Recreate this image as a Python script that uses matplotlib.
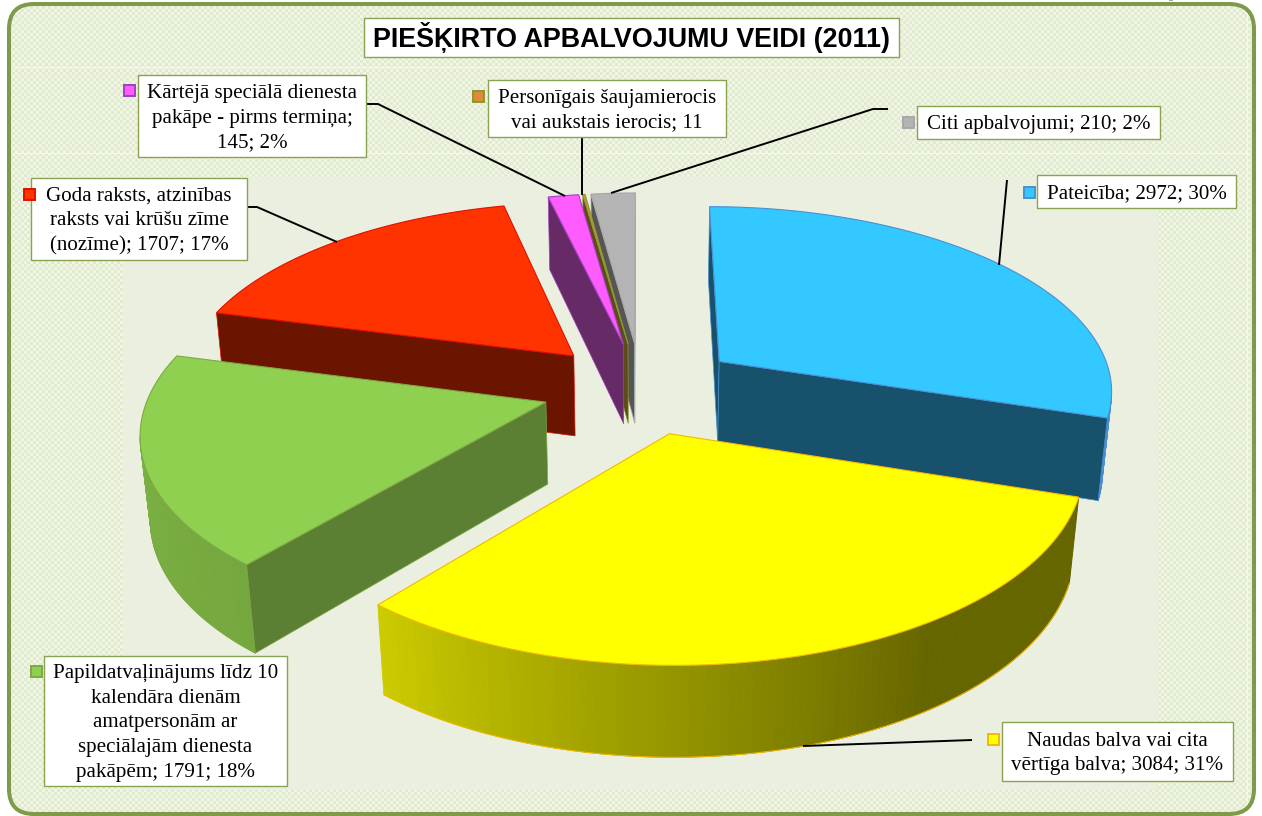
import numpy as np
import matplotlib
matplotlib.use("Agg")
import matplotlib.pyplot as plt
from matplotlib.colors import to_rgb, ListedColormap
from matplotlib.patches import Polygon, Rectangle, FancyBboxPatch

title = "PIEŠĶIRTO APBALVOJUMU VEIDI (2011)"
values = [2972, 3084, 1791, 1707, 145, 11, 210]
labels = ["Pateicība; 2972; 30%",
          "Naudas balva vai cita\nvērtīga balva; 3084; 31%",
          "Papildatvaļinājums līdz 10\nkalendāra dienām\namatpersonām ar\nspeciālajām dienesta\npakāpēm; 1791; 18%",
          "Goda raksts, atzinības\nraksts vai krūšu zīme\n(nozīme); 1707; 17%",
          "Kārtējā speciālā dienesta\npakāpe - pirms termiņa;\n145; 2%",
          "Personīgais šaujamierocis\nvai aukstais ierocis; 11",
          "Citi apbalvojumi; 210; 2%"]
top_colors = ["#33c8ff", "#ffff00", "#90d050", "#ff3300", "#ff5cff", "#e08a3c", "#b4b4b4"]
wall_colors = ["#17516b", "#666600", "#5c8033", "#6b1500", "#662a66", "#5f4a1e", "#555555"]
edge_colors = ["#4a90d0", "#f5b800", "#7fa844", "#e01000", "#a040c0", "#8a9a30", "#a8a8a8"]
# arc wall shade: colour at slice start and end angle, and where the ramp begins
arc_from = ["#4a90d0", "#666600", "#74a83e", "#6b1500", "#662a66", "#5f4a1e", "#555555"]
arc_to = ["#4a90d0", "#cccc00", "#80b546", "#6b1500", "#662a66", "#5f4a1e", "#555555"]
arc_hold = [0, 0.35, 0, 0, 0, 0, 0]

# layout, pixels
box_pos = [(1037, 175, 1236, 208), (1002, 722, 1233, 781), (44, 656, 287, 786),
           (31, 178, 247, 260), (138, 75, 366, 157), (488, 80, 726, 137), (917, 106, 1160, 139)]
marker_pos = [(1029, 192), (993, 739), (36, 671), (29, 194), (129, 90), (478, 96), (908, 122)]
leaders = [[(1007, 180), (999, 265)], [(972, 740), (803, 746)], None,
           [(245, 207), (257, 207), (337, 242)], [(366, 104), (378, 104), (565, 196)],
           [(582, 137), (582, 195)], [(888, 109), (873, 109), (611, 193)]]

# pie camera
cx, cy = 641, 388
A, B, D = 395, 184, 83
k, m = 0.143, 0.02
explode = 0.25
viewer = np.array([0, -1 / k])


def project(u, v, z):
    w = 1 + k * v + m * z
    return cx + A * u / w, cy + (-B * v + D * z) / w


def faces_viewer(normal, point):
    return np.dot(normal, viewer - point) > 0


def mix(c1, c2, t):
    return tuple((1 - t) * a + t * b for a, b in zip(to_rgb(c1), to_rgb(c2)))


fig = plt.figure(figsize=(12.62, 8.16), dpi=100)
ax = fig.add_axes([0, 0, 1, 1])
ax.axis("off")

# background
frame = FancyBboxPatch((9, 4), 1245, 810, boxstyle="round,pad=0,rounding_size=25",
                       fc="none", ec="#7f9a48", lw=2.9, zorder=2)
ax.add_patch(frame)
yy, xx = np.mgrid[0:272, 0:421]
checker = ((xx + yy) % 2).astype(float)
pal = ListedColormap(["#e0eacf", "#f0f5e6"])
bg = ax.imshow(checker, extent=(0, 1263, 816, 0), cmap=pal, interpolation="nearest", zorder=0, aspect="auto")
bg.set_clip_path(frame)
ax.set_xlim(0, 1262)
ax.set_ylim(816, 0)
ax.hlines([67, 153], 12, 1250, color="#f4f8ee", lw=0.8, zorder=0.5)
ax.vlines([1247], 8, 808, color="#f4f8ee", lw=0.8, zorder=0.5)
ax.add_patch(Rectangle((123, 178), 1034, 612, fc="#eaefdf", ec="none", zorder=1))
ax.add_patch(Rectangle((1169, 0), 4, 1.2, fc="#a0a0a0", ec="none", zorder=1))

# pie, back slices first
angles = np.cumsum([0] + values) / sum(values) * 2 * np.pi
order = [6, 5, 4, 3, 2, 0, 1]
z = 3
for i in order:
    a0, a1 = angles[i], angles[i + 1]
    mid = (a0 + a1) / 2
    apex = explode * np.array([np.sin(mid), np.cos(mid)])
    ts = np.linspace(a0, a1, max(int((a1 - a0) * 60), 3))
    us = apex[0] + np.sin(ts)
    vs = apex[1] + np.cos(ts)

    # arc wall in short strips
    rim_x, rim_y = [], []
    for j in range(len(ts) - 1):
        tm = (ts[j] + ts[j + 1]) / 2
        out = np.array([np.sin(tm), np.cos(tm)])
        if not faces_viewer(out, apex + out):
            continue
        t = (tm - a0) / (a1 - a0)
        t = max(0, (t - arc_hold[i]) / (1 - arc_hold[i]))
        col = mix(arc_from[i], arc_to[i], t)
        quad = [project(us[j], vs[j], 0), project(us[j + 1], vs[j + 1], 0),
                project(us[j + 1], vs[j + 1], 1), project(us[j], vs[j], 1)]
        ax.add_patch(Polygon(quad, fc=col, ec=col, lw=0.6, zorder=z))
        rim_x += [quad[3][0], quad[2][0]]
        rim_y += [quad[3][1], quad[2][1]]
    z += 1
    ax.plot(rim_x, rim_y, color=edge_colors[i], lw=0.7, zorder=z)

    # radial walls
    for ang, sign in ((a0, -1), (a1, 1)):
        normal = sign * np.array([np.cos(ang), -np.sin(ang)])
        rim = apex + np.array([np.sin(ang), np.cos(ang)])
        if faces_viewer(normal, (apex + rim) / 2):
            quad = [project(apex[0], apex[1], 0), project(rim[0], rim[1], 0),
                    project(rim[0], rim[1], 1), project(apex[0], apex[1], 1)]
            ax.add_patch(Polygon(quad, fc=wall_colors[i], ec=edge_colors[i], lw=0.5, zorder=z))
    z += 1

    # top face
    top = [project(apex[0], apex[1], 0)] + [project(a, b, 0) for a, b in zip(us, vs)]
    ax.add_patch(Polygon(top, fc=top_colors[i], ec=edge_colors[i], lw=0.8, zorder=z))
    z += 1

# leader lines, label boxes, legend keys
for i, label in enumerate(labels):
    if leaders[i] is not None:
        xs, ys = zip(*leaders[i])
        ax.plot(xs, ys, color="black", lw=1.4, zorder=40, solid_capstyle="butt")
    x0, y0, x1, y1 = box_pos[i]
    ax.add_patch(Rectangle((x0, y0), x1 - x0, y1 - y0, fc="white", ec="#8aa352", lw=1.0, zorder=41))
    ax.text((x0 + x1) / 2, (y0 + y1) / 2 + 2, label, ha="center", va="center", ma="center",
            family="Liberation Serif", fontsize=15.1, linespacing=1.4, color="black", zorder=42)
    mx, my = marker_pos[i]
    ax.add_patch(Rectangle((mx - 5.5, my - 5.5), 11, 11, fc=top_colors[i], ec=edge_colors[i], lw=1.4, zorder=42))

ax.add_patch(Rectangle((364, 18), 535, 39, fc="white", ec="#8aa352", lw=1.0, zorder=41))
ax.text(631.5, 37.5, title, ha="center", va="center", family="Liberation Sans",
        fontweight="bold", fontsize=19.4, color="black", zorder=42)

fig.savefig("out.png", dpi=100, facecolor="white")
